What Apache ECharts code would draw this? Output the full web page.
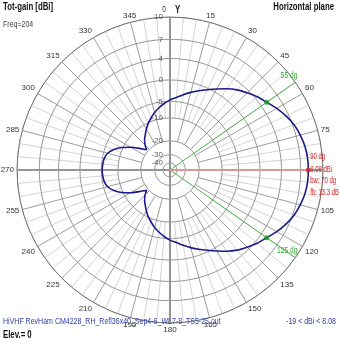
<!DOCTYPE html>
<html><head><meta charset="utf-8">
<script src="https://cdn.jsdelivr.net/npm/echarts@6/dist/echarts.min.js"></script>
<style>html,body{margin:0;padding:0;background:#fff}#c{width:339px;height:339px}</style>
</head><body><div id="c"></div>
<script>
// ---- data ----
const angles = [0,5,10,15,20,25,30,35,40,45,50,55,60,65,70,75,80,85,90,95,100,105,110,115,120,125,130,135,140,145,150,155,160,165,170,175,180,185,190,195,200,205,210,215,220,225,229,230,235,240,245,250,255,260,265,270,275,280,285,290,295,300,305,310,311,315,320,325,330,335,340,345,350,355,360];
const gains = [-4.6,-3.9,-3.0,-2.1,-1.2,-0.3,0.7,1.8,2.8,3.6,4.4,5.08,5.9,6.6,7.2,7.6,7.9,8.05,8.08,8.05,7.9,7.6,7.2,6.6,5.9,5.08,4.4,3.6,2.8,1.8,0.7,-0.3,-1.2,-2.1,-3.0,-3.9,-4.6,-5.5,-6.5,-7.6,-8.9,-10.2,-11.7,-13.3,-14.8,-16.8,-19.0,-18.5,-15.6,-12.4,-9.6,-7.5,-6.1,-5.5,-5.3,-5.2,-5.3,-5.5,-6.1,-7.5,-9.6,-12.4,-15.6,-18.5,-19.0,-16.8,-14.8,-13.3,-11.7,-10.2,-8.9,-7.6,-6.5,-5.5,-4.6];
const ringValues = [10,7,4,0,-5,-10,-20,-30,-40];
const beamAngles = [55,125];
const beamGain = 5.08;
const maxAngle = 90, maxGain = 8.08, minGain = -19, beamWidth = 70, frontBack = 13.3;
const freq = 204, elev = 0;
const fileName = 'HiVHF RevHam CM4228_RH_Refl36x40_Sep4-6_WL7-8_TS5-25.out';

// log-like (ARRL style) radial scale: dBi -> radius value
function toR(db){ return 158.7*Math.pow(0.603,(10-db)/10)-5.7; }
const RMAX = toR(10);
const FONT = '"Liberation Sans",Arial,sans-serif';
const SX = 0.78; // narrow the text like the original condensed font

const ringSeries = ringValues.map((v,i)=>{
  const d=[]; for(let a=0;a<=360;a+=2) d.push([toR(v),a]);
  return {type:'line',coordinateSystem:'polar',data:d,symbol:'none',silent:true,z:3,
    lineStyle:{color:i===0?'#707070':'#949494',width:1}};
});
const minor=[], major=[];
for(let a=0;a<360;a+=5){
  if(a%90===0) continue;
  if(a%15===0){ major.push([toR(-20),a],[RMAX,a],['-','-']); }
  else { minor.push([toR(-10),a],[RMAX,a],['-','-']); }
}

const series = [
  {type:'line',coordinateSystem:'polar',data:minor,symbol:'none',silent:true,z:1,lineStyle:{color:'#d4d4d4',width:1}},
  {type:'line',coordinateSystem:'polar',data:major,symbol:'none',silent:true,z:2,lineStyle:{color:'#9c9c9c',width:1}},
  ...ringSeries,
  {type:'line',coordinateSystem:'polar',data:[[RMAX,0],[0,0],[RMAX,180]],symbol:'none',silent:true,z:4,lineStyle:{color:'#959595',width:2}},
  {type:'line',coordinateSystem:'polar',data:[[RMAX,270],[0,270]],symbol:'none',silent:true,z:4,lineStyle:{color:'#959595',width:2}},
  {type:'line',coordinateSystem:'polar',data:[[toR(maxGain),maxAngle],[RMAX,maxAngle]],symbol:'none',silent:true,z:4,lineStyle:{color:'#959595',width:2}},
  ...beamAngles.map(a=>({type:'line',coordinateSystem:'polar',data:[[0,a],[RMAX,a]],symbol:'none',silent:true,z:5,lineStyle:{color:'#4caf4c',width:1}})),
  {type:'line',coordinateSystem:'polar',data:[[0,maxAngle],[toR(maxGain),maxAngle]],symbol:'none',silent:true,z:5,lineStyle:{color:'#d49a9a',width:2}},
  {type:'line',coordinateSystem:'polar',data:angles.map((a,i)=>[toR(gains[i]),a]),symbol:'none',smooth:0.25,silent:true,z:6,
    lineStyle:{color:'#1a1a8a',width:1.6}},
  {type:'scatter',coordinateSystem:'polar',data:beamAngles.map(a=>[toR(beamGain),a]),symbolSize:5,itemStyle:{color:'#1f9a1f'},z:7,silent:true},
  {type:'scatter',coordinateSystem:'polar',data:[[toR(maxGain),maxAngle]],symbolSize:5,itemStyle:{color:'#dd2222'},z:7,silent:true},
  {type:'scatter',coordinateSystem:'polar',data:ringValues.map(v=>[toR(v),0,v]),symbolSize:0,z:8,silent:true,
    label:{show:true,position:'left',distance:7,formatter:p=>String(p.value[2]),color:'#333',fontSize:8,fontFamily:FONT}}
];

const chart = echarts.init(document.getElementById('c'),null,{renderer:'canvas'});
chart.setOption({
  animation:false,
  backgroundColor:'#fff',
  polar:{center:[170,170],radius:RMAX},
  angleAxis:{type:'value',min:0,max:360,interval:15,startAngle:90,clockwise:true,
    axisLine:{show:true,lineStyle:{color:'#707070',width:1}},axisTick:{show:false},splitLine:{show:false},
    axisLabel:{margin:3,color:'#333',fontSize:8,fontFamily:FONT,formatter:v=>(v===0||v===90||v===360)?'':String(v)}},
  radiusAxis:{type:'value',min:0,max:RMAX,axisLine:{show:false},axisTick:{show:false},axisLabel:{show:false},splitLine:{show:false}},
  series:series
});

function txt(text,x,y,fill,bold,align,size){
  return {type:'text',x:x,y:y,scaleX:SX,z:20,silent:true,
    style:{text:text,fill:fill,font:(bold?'bold ':'')+(size||9)+'px '+FONT,align:align||'left',verticalAlign:'middle'}};
}
const g = [
  txt('Tot-gain [dBi]',3,7,'#111',true,'left',10),
  txt('Freq='+freq,3,25,'#444',false,'left',9),
  txt('0',166,10,'#333',false,'right',8.5),
  txt('Y',175,10,'#111',true,'left',10),
  txt('Horizontal plane',334,7,'#111',true,'right',10),
  txt(fileName,3,322,'#3040a8',false,'left',9),
  txt(minGain+' < dBi < '+maxGain.toFixed(2),336,322,'#3040a8',false,'right',9),
  txt('Elev.= '+elev,3,335,'#111',true,'left',10)
];
// labels anchored to the polar scale
const pMax = chart.convertToPixel({polarIndex:0},[toR(maxGain),maxAngle]);
const redLines = [maxAngle+' dg', maxGain.toFixed(2)+' dBi', 'bw: '+beamWidth+' dg', 'fb: '+frontBack+' dB'];
const redDy = [-13,0,11,23];
redLines.forEach((t,i)=>{ const e=txt(t,pMax[0]+2,pMax[1]+redDy[i],'#d02020',false,'left',9); e.scaleX=0.66; g.push(e); });
beamAngles.forEach(a=>{
  const p = chart.convertToPixel({polarIndex:0},[RMAX,a]);
  g.push(txt(a+' dg',p[0]+2,p[1]-7,'#33aa33',false,'right',8.5));
});
chart.setOption({graphic:g});
</script></body></html>
